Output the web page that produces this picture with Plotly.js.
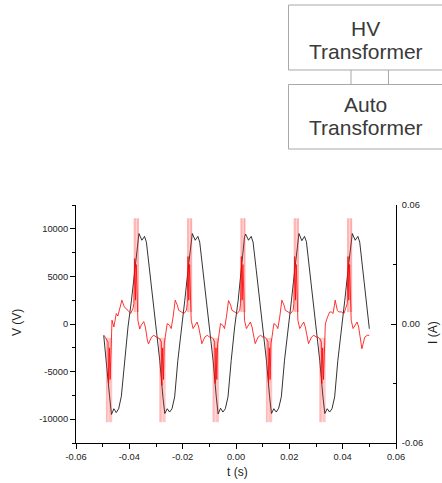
<!DOCTYPE html>
<html><head><meta charset="utf-8">
<script src="https://cdn.plot.ly/plotly-3.0.1.min.js"></script>
<style>html,body{margin:0;padding:0;background:#fff;overflow:hidden}#chart{width:442px;height:483px}</style>
</head><body><div id="chart"></div>
<script>
// Voltage (left axis)
const timeV = [-0.0496,-0.0486,-0.0474,
-0.0467,-0.0458,-0.0449,-0.0440,-0.0430,-0.0418,-0.0405,-0.0392,-0.0380,-0.0368,-0.0364,-0.0353,-0.0343,-0.0336,-0.0324,-0.0311,-0.0299,-0.0286,-0.0274,
-0.0267,-0.0258,-0.0249,-0.0240,-0.0230,-0.0218,-0.0205,-0.0192,-0.0180,-0.0168,-0.0164,-0.0153,-0.0143,-0.0136,-0.0124,-0.0111,-0.0099,-0.0086,-0.0074,
-0.0067,-0.0058,-0.0049,-0.0040,-0.0030,-0.0018,-0.0005,0.0008,0.0020,0.0032,0.0036,0.0047,0.0057,0.0064,0.0076,0.0089,0.0101,0.0114,0.0126,
0.0133,0.0142,0.0151,0.0160,0.0170,0.0182,0.0195,0.0208,0.0220,0.0232,0.0236,0.0247,0.0257,0.0264,0.0276,0.0289,0.0301,0.0314,0.0326,
0.0333,0.0342,0.0351,0.0360,0.0370,0.0382,0.0395,0.0408,0.0420,0.0432,0.0436,0.0447,0.0457,0.0464,0.0476,0.0489,0.0500];
const voltage = [-1200,-3800,-7650,
-9500,-8900,-9300,-8900,-7600,-3800,-300,2500,5650,9100,9500,8800,9200,8600,5700,2500,-650,-3800,-7700,
-9400,-8900,-9250,-8900,-7650,-3800,-300,2500,5650,9150,9500,8800,9200,8600,5650,2500,-650,-3800,-7650,
-9450,-8850,-9250,-8900,-7650,-3850,-300,2450,5650,9150,9450,8800,9200,8600,5650,2500,-650,-3800,-7650,
-9400,-8900,-9250,-8850,-7650,-3800,-300,2500,5600,9150,9500,8750,9200,8650,5650,2500,-650,-3800,-7650,
-9400,-8900,-9250,-8900,-7650,-3800,-300,2500,5650,9150,9500,8800,9200,8600,5650,2500,-500];

// Current (right axis)
const timeI = [-0.0495,-0.0486,-0.0480,-0.0478,-0.0475,-0.0472,-0.0469,
-0.0465,-0.0458,-0.0449,-0.0443,-0.0436,-0.0428,-0.0420,-0.0415,-0.0405,-0.0395,-0.0386,-0.0383,-0.0380,-0.0377,-0.0374,-0.0371,-0.0368,-0.0361,-0.0355,-0.0346,-0.0340,-0.0332,-0.0328,-0.0317,-0.0308,-0.0299,-0.0293,-0.0286,-0.0280,-0.0278,-0.0275,-0.0272,-0.0269,
-0.0265,-0.0258,-0.0249,-0.0243,-0.0236,-0.0228,-0.0220,-0.0215,-0.0205,-0.0195,-0.0186,-0.0183,-0.0180,-0.0177,-0.0174,-0.0171,-0.0168,-0.0161,-0.0155,-0.0146,-0.0140,-0.0132,-0.0128,-0.0117,-0.0108,-0.0099,-0.0093,-0.0086,-0.0080,-0.0078,-0.0075,-0.0072,-0.0069,
-0.0065,-0.0058,-0.0049,-0.0043,-0.0036,-0.0028,-0.0020,-0.0015,-0.0005,0.0005,0.0014,0.0017,0.0020,0.0023,0.0026,0.0029,0.0032,0.0039,0.0045,0.0054,0.0060,0.0068,0.0072,0.0083,0.0092,0.0101,0.0107,0.0114,0.0120,0.0122,0.0125,0.0128,0.0131,
0.0135,0.0142,0.0151,0.0157,0.0164,0.0172,0.0180,0.0185,0.0195,0.0205,0.0214,0.0217,0.0220,0.0223,0.0226,0.0229,0.0232,0.0239,0.0245,0.0254,0.0260,0.0268,0.0272,0.0283,0.0292,0.0301,0.0307,0.0314,0.0320,0.0322,0.0325,0.0328,0.0331,
0.0335,0.0342,0.0351,0.0357,0.0364,0.0372,0.0380,0.0385,0.0395,0.0405,0.0414,0.0417,0.0420,0.0423,0.0426,0.0429,0.0432,0.0439,0.0445,0.0454,0.0460,0.0468,0.0472,0.0483,0.0492,0.0500];
const current = [-0.0057,-0.0074,-0.0091,-0.0300,-0.0120,-0.0280,-0.0100,
0.0019,-0.0015,0.0053,0.0040,0.0080,0.0120,0.0090,0.0080,0.0069,0.0053,0.0080,0.0103,0.0330,0.0120,0.0300,0.0090,0.0019,-0.0025,-0.0005,0.0012,-0.0015,-0.0085,-0.0100,-0.0066,-0.0057,-0.0066,-0.0068,-0.0074,-0.0091,-0.0310,-0.0120,-0.0280,-0.0100,
-0.0066,0.0002,-0.0007,-0.0023,0.0035,0.0120,0.0095,0.0069,0.0061,0.0053,0.0069,0.0103,0.0340,0.0120,0.0300,0.0090,0.0019,-0.0023,-0.0007,0.0010,-0.0015,-0.0082,-0.0099,-0.0066,-0.0057,-0.0066,-0.0066,-0.0074,-0.0091,-0.0300,-0.0120,-0.0280,-0.0100,
-0.0066,0.0002,-0.0007,-0.0023,0.0035,0.0118,0.0095,0.0069,0.0061,0.0053,0.0069,0.0103,0.0340,0.0120,0.0300,0.0090,0.0019,-0.0023,-0.0007,0.0010,-0.0015,-0.0082,-0.0099,-0.0066,-0.0057,-0.0066,-0.0066,-0.0074,-0.0091,-0.0300,-0.0120,-0.0280,-0.0100,
-0.0066,0.0002,-0.0007,-0.0023,0.0035,0.0120,0.0095,0.0069,0.0061,0.0053,0.0069,0.0103,0.0340,0.0120,0.0300,0.0090,0.0019,-0.0023,-0.0007,0.0010,-0.0015,-0.0082,-0.0099,-0.0066,-0.0057,-0.0066,-0.0066,-0.0074,-0.0091,-0.0300,-0.0120,-0.0280,-0.0100,
0.0000,0.0030,0.0060,0.0061,0.0053,0.0120,0.0069,0.0061,0.0061,0.0053,0.0085,0.0103,0.0340,0.0120,0.0300,0.0090,0.0019,-0.0023,-0.0007,0.0010,-0.0015,-0.0082,-0.0125,-0.0066,-0.0057,-0.0057];

// Current spikes (thin pink bursts)
const upSpikeT = [-0.0382,-0.0379,-0.0376,-0.0371,-0.0368,-0.0366,
-0.0182,-0.0179,-0.0176,-0.0171,-0.0168,-0.0166,
0.0018,0.0021,0.0024,0.0029,0.0032,0.0034,
0.0218,0.0221,0.0224,0.0229,0.0232,0.0234,
0.0418,0.0421,0.0424,0.0429,0.0432,0.0434];
const upSpikeBase = [0.006,0.006,0.006,0.006,0.006,0.006, 0.006,0.006,0.006,0.006,0.006,0.006, 0.006,0.006,0.006,0.006,0.006,0.006, 0.006,0.006,0.006,0.006,0.006,0.006, 0.006,0.006,0.006,0.006,0.006,0.006];
const upSpikeTip = [0.0533,0.0533,0.0533,0.0533,0.0533,0.0533, 0.0533,0.0533,0.0533,0.0533,0.0533,0.0533, 0.0533,0.0533,0.0533,0.0533,0.0533,0.0533, 0.0533,0.0533,0.0533,0.0533,0.0533,0.0533, 0.0533,0.0533,0.0533,0.0533,0.0533,0.0533];
const downSpikeT = [-0.0486,-0.0483,-0.0479,-0.0474,-0.0470,-0.0466,
-0.0286,-0.0283,-0.0279,-0.0274,-0.0270,-0.0266,
-0.0086,-0.0083,-0.0079,-0.0074,-0.0070,-0.0066,
0.0114,0.0117,0.0121,0.0126,0.0130,0.0134,
0.0314,0.0317,0.0321,0.0326,0.0330,0.0334];
const downSpikeBase = [-0.007,-0.007,-0.007,-0.007,-0.007,-0.007, -0.007,-0.007,-0.007,-0.007,-0.007,-0.007, -0.007,-0.007,-0.007,-0.007,-0.007,-0.007, -0.007,-0.007,-0.007,-0.007,-0.007,-0.007, -0.007,-0.007,-0.007,-0.007,-0.007,-0.007];
const downSpikeTip = [-0.0495,-0.0495,-0.0495,-0.0495,-0.0495,-0.0495, -0.0495,-0.0495,-0.0495,-0.0495,-0.0495,-0.0495, -0.0495,-0.0495,-0.0495,-0.0495,-0.0495,-0.0495, -0.0495,-0.0495,-0.0495,-0.0495,-0.0495,-0.0495, -0.0495,-0.0495,-0.0495,-0.0495,-0.0495,-0.0495];

// Ticks
const xTickVals = [-0.06,-0.04,-0.02,0,0.02,0.04,0.06];
const xTickText = ['-0.06','-0.04','-0.02','0.00','0.02','0.04','0.06'];
const yTickVals = [-10000,-5000,0,5000,10000];
const yTickText = ['-10000','-5000','0','5000','10000'];
const y2TickVals = [-0.06,0,0.06];
const y2TickText = ['-0.06','0.00','0.06'];

// Diagram labels
const boxLines = ['HV','Transformer','Auto','Transformer'];

const sx = [], sy = [];
for (let i = 0; i < upSpikeT.length; i++) { sx.push(upSpikeT[i], upSpikeT[i], null); sy.push(upSpikeBase[i], upSpikeTip[i], null); }
for (let i = 0; i < downSpikeT.length; i++) { sx.push(downSpikeT[i], downSpikeT[i], null); sy.push(downSpikeBase[i], downSpikeTip[i], null); }

const FONT = 'Liberation Sans, Arial, sans-serif';
const traces = [
  {x: timeV, y: voltage, type: 'scatter', mode: 'lines', line: {color: '#000', width: 0.8}, yaxis: 'y', hoverinfo: 'skip'},
  {x: sx, y: sy, type: 'scatter', mode: 'lines', line: {color: 'rgba(255,40,40,0.5)', width: 0.6}, yaxis: 'y2', connectgaps: false, hoverinfo: 'skip'},
  {x: timeI, y: current, type: 'scatter', mode: 'lines', line: {color: '#ff0000', width: 0.8}, yaxis: 'y2', hoverinfo: 'skip'}
];

// plot area: px 76..396 horizontally, 205..443 vertically
const L = 76, R = 396, T = 205, B = 443;
const px = v => (v - L) / (R - L);
const py = v => (B - v) / (B - T);
const boxColor = '#a8a8a8';

const layout = {
  width: 442, height: 483,
  margin: {l: L, r: 442 - R, t: T, b: 483 - B, pad: 0},
  paper_bgcolor: '#fff', plot_bgcolor: '#fff',
  showlegend: false,
  font: {family: FONT, size: 9.3, color: '#222'},
  xaxis: {range: [-0.06, 0.06], tickmode: 'array', tickvals: xTickVals, ticktext: xTickText,
    showline: true, linecolor: '#000', linewidth: 1, ticks: 'outside', ticklen: 5, tickcolor: '#000', tickwidth: 1,
    minor: {dtick: 0.01, tick0: 0, ticks: 'outside', ticklen: 3, tickcolor: '#000', tickwidth: 1},
    showgrid: false, zeroline: false, tickfont: {family: FONT, size: 9.3, color: '#222'}},
  yaxis: {range: [-12500, 12500], tickmode: 'array', tickvals: yTickVals, ticktext: yTickText,
    showline: true, linecolor: '#000', linewidth: 1, ticks: 'outside', ticklen: 5, tickcolor: '#000', tickwidth: 1,
    minor: {dtick: 2500, tick0: 0, ticks: 'outside', ticklen: 3, tickcolor: '#000', tickwidth: 1},
    showgrid: false, zeroline: false, tickfont: {family: FONT, size: 9.3, color: '#222'}},
  yaxis2: {range: [-0.06, 0.06], overlaying: 'y', side: 'right', tickmode: 'array', tickvals: y2TickVals, ticktext: y2TickText,
    showline: true, linecolor: '#000', linewidth: 1, ticks: 'inside', ticklen: 5, tickcolor: '#000', tickwidth: 1,
    minor: {dtick: 0.03, tick0: 0, ticks: 'inside', ticklen: 3, tickcolor: '#000', tickwidth: 1},
    showgrid: false, zeroline: false, ticklabelstandoff: 3, tickfont: {family: FONT, size: 9.3, color: '#222'}},
  shapes: [
    {type: 'rect', xref: 'paper', yref: 'paper', x0: px(288.5), x1: px(444), y0: py(70), y1: py(5), line: {color: boxColor, width: 1}},
    {type: 'rect', xref: 'paper', yref: 'paper', x0: px(288.5), x1: px(444), y0: py(149), y1: py(84.5), line: {color: boxColor, width: 1}},
    {type: 'line', xref: 'paper', yref: 'paper', x0: px(351), x1: px(351), y0: py(84.5), y1: py(70), line: {color: boxColor, width: 1}},
    {type: 'line', xref: 'paper', yref: 'paper', x0: px(388.5), x1: px(388.5), y0: py(84.5), y1: py(70), line: {color: boxColor, width: 1}}
  ],
  annotations: [
    {text: boxLines[0], xref: 'paper', yref: 'paper', x: px(365.5), y: py(28), xanchor: 'center', yanchor: 'middle', showarrow: false, font: {family: FONT, size: 21, color: '#3a3a3a'}},
    {text: boxLines[1], xref: 'paper', yref: 'paper', x: px(365.5), y: py(51), xanchor: 'center', yanchor: 'middle', showarrow: false, font: {family: FONT, size: 21, color: '#3a3a3a'}},
    {text: boxLines[2], xref: 'paper', yref: 'paper', x: px(365.5), y: py(104.5), xanchor: 'center', yanchor: 'middle', showarrow: false, font: {family: FONT, size: 21, color: '#3a3a3a'}},
    {text: boxLines[3], xref: 'paper', yref: 'paper', x: px(365.5), y: py(127), xanchor: 'center', yanchor: 'middle', showarrow: false, font: {family: FONT, size: 21, color: '#3a3a3a'}},
    {text: 'V (V)', xref: 'paper', yref: 'paper', x: px(17), y: py(323), xanchor: 'center', yanchor: 'middle', textangle: -90, showarrow: false, font: {family: FONT, size: 12, color: '#222'}},
    {text: 'I (A)', xref: 'paper', yref: 'paper', x: px(433), y: py(333), xanchor: 'center', yanchor: 'middle', textangle: -90, showarrow: false, font: {family: FONT, size: 12, color: '#222'}},
    {text: 't (s)', xref: 'paper', yref: 'paper', x: px(237), y: py(472), xanchor: 'center', yanchor: 'middle', showarrow: false, font: {family: FONT, size: 12, color: '#222'}}
  ]
};

Plotly.newPlot('chart', traces, layout, {displayModeBar: false, staticPlot: true});
</script>
</body></html>
